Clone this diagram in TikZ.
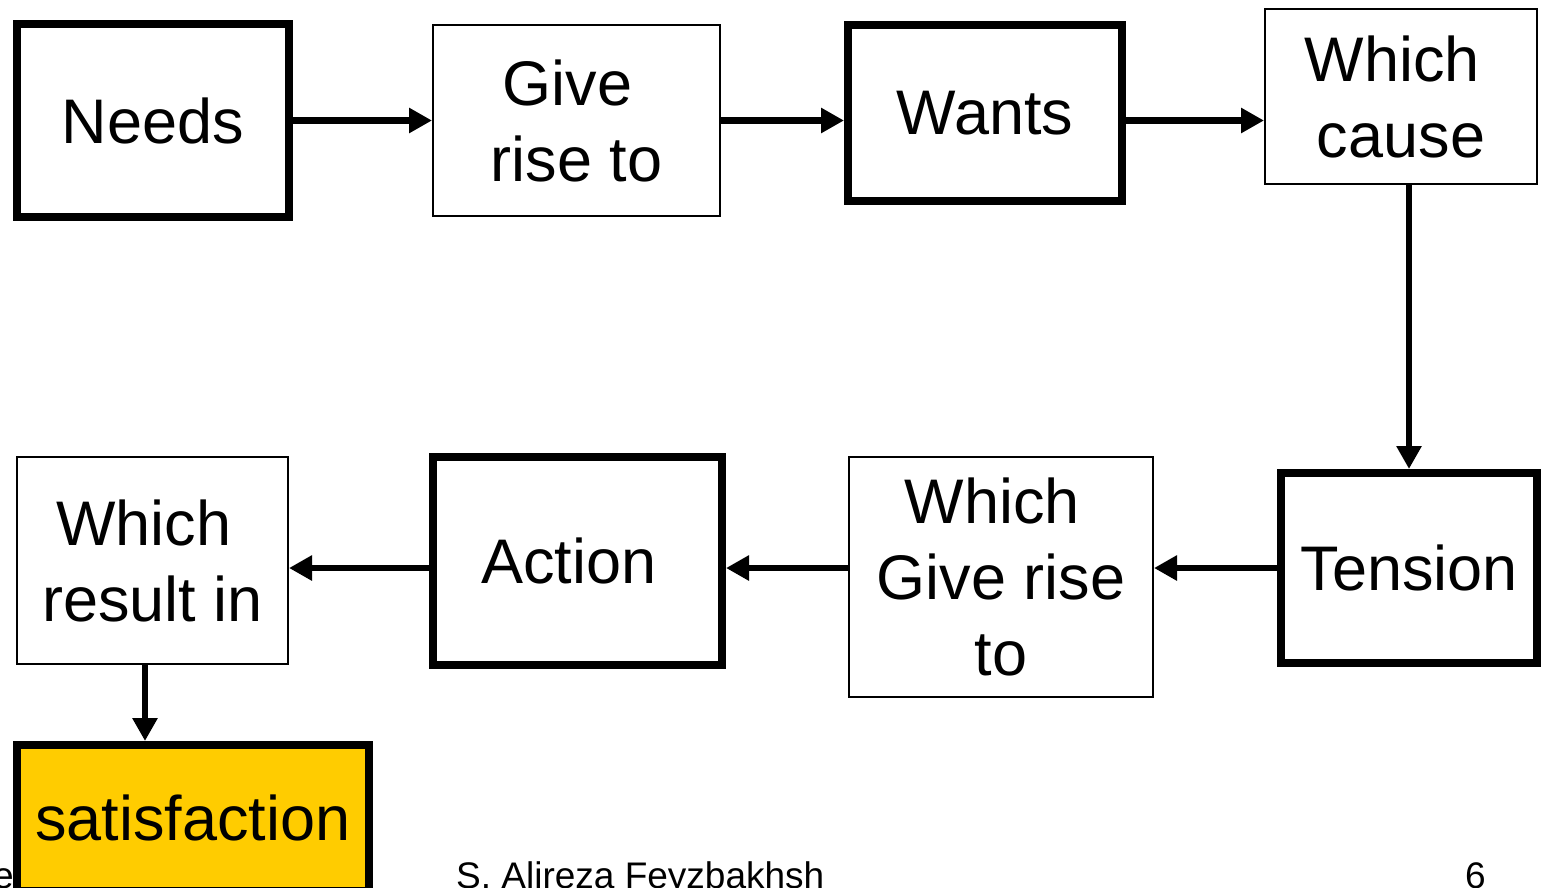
\documentclass[tikz,border=0pt]{standalone}
\usepackage{fontspec}
\setmainfont{Liberation Sans}
\usetikzlibrary{arrows.meta,positioning}
\definecolor{SatisYellow}{RGB}{255,204,0}

\begin{document}
\begin{tikzpicture}[x=1pt,y=-1pt,
    thinbox/.style={draw=black,line width=2pt,fill=white,align=center,
                    inner sep=0pt,font=\fontsize{63}{76}\selectfont},
    thickbox/.style={thinbox,line width=8pt},
    arr/.style={-{Triangle[length=23pt,width=24pt]},line width=6.5pt},
    foot/.style={font=\fontsize{37}{40}\selectfont,inner sep=0pt}
  ]
    \useasboundingbox (0,0) rectangle (1547,887);
    % top row
    \node[thickbox,minimum width=272pt,minimum height=193pt] (needs) at (153,120.5) {Needs};
    \node[thinbox,minimum width=287pt,minimum height=191pt] (give) at (576.5,120.5)
      {Give\hspace*{.28em}\\rise to};
    \node[thickbox,minimum width=274pt,minimum height=176pt] (wants) at (985,113) {Wants};
    \node[thinbox,minimum width=272pt,minimum height=175pt] (cause) at (1401,96.5)
      {Which\hspace*{.28em}\\cause};
    % bottom row
    \node[thickbox,minimum width=256pt,minimum height=190pt] (tension) at (1409,568) {Tension};
    \node[thinbox,minimum width=304pt,minimum height=240pt] (rise) at (1001,577)
      {Which\hspace*{.28em}\\Give rise\\to};
    \node[thickbox,minimum width=289pt,minimum height=208pt] (action) at (577.5,561)
      {Action\hspace*{.28em}};
    \node[thinbox,minimum width=271pt,minimum height=207pt] (result) at (152.5,560.5)
      {Which\hspace*{.28em}\\result in};
    % footer
    \node[foot,anchor=base west] (footleft) at (-7,888) {ed};
    \node[foot,anchor=base west] (author) at (456,888) {S. Alireza Feyzbakhsh};
    \node[foot,anchor=base west] (pagenum) at (1465,888) {6};
    \node[thickbox,fill=SatisYellow,minimum width=352pt,minimum height=146pt] (satis) at (193,818)
      {satisfaction};
    % connectors
    \draw[arr] (needs.east) -- (needs.east -| give.west);
    \draw[arr] (give.east) -- (give.east -| wants.west);
    \draw[arr] (wants.east |- give.east) -- (give.east -| cause.west);
    \draw[arr] (cause.south -| tension.north) -- (tension.north);
    \draw[arr] (tension.west) -- (tension.west -| rise.east);
    \draw[arr] (rise.west |- tension.west) -- (tension.west -| action.east);
    \draw[arr] (action.west |- tension.west) -- (tension.west -| result.east);
    \draw[arr] ([xshift=-7.5pt]result.south) -- ([xshift=-7.5pt]result.south |- satis.north);
  \end{tikzpicture}
\end{document}
